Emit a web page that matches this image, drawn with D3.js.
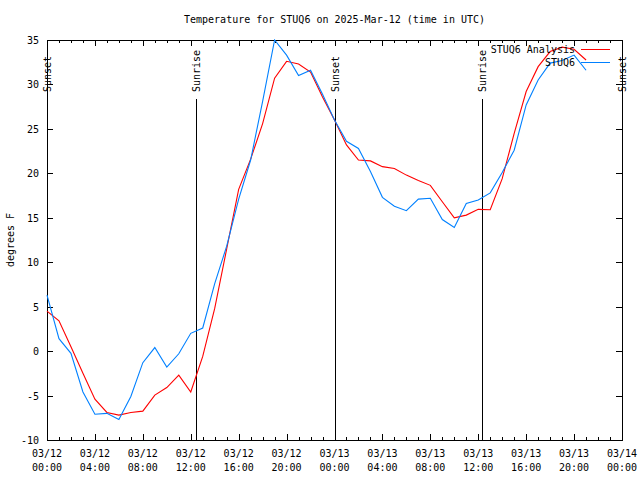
<!DOCTYPE html>
<html><head><meta charset="utf-8">
<script src="https://cdn.jsdelivr.net/npm/d3@7"></script>
<style>body{margin:0;background:#fff}svg{display:block}text{font-family:"DejaVu Sans Mono",monospace;font-size:10px;fill:#000}</style>
</head><body>
<script>
const title = "Temperature for STUQ6 on 2025-Mar-12 (time in UTC)";
const yLabel = "degrees F";
const startTime = "2025-03-12T00:00:00Z";
const endTime = "2025-03-14T00:00:00Z";
const hours = d3.range(0, 46);
const analysis = [4.5,3.4,0.5,-2.5,-5.4,-6.9,-7.2,-6.9,-6.75,-4.95,-4.1,-2.7,-4.6,-0.6,4.8,11.5,18.2,21.6,25.6,30.7,32.6,32.3,31.4,28.6,26.0,23.2,21.5,21.4,20.75,20.55,19.8,19.2,18.65,16.8,15.0,15.3,15.95,15.9,19.4,24.5,29.2,32.0,33.7,34.2,33.95,32.75];
const observed = [6.3,1.4,-0.25,-4.6,-7.1,-7.0,-7.7,-5.1,-1.3,0.4,-1.8,-0.3,2.0,2.6,7.6,11.8,17.1,21.5,28.1,35.0,33.3,31.0,31.6,28.9,26.0,23.6,22.8,20.2,17.3,16.3,15.8,17.1,17.2,14.8,13.9,16.6,17.0,17.8,20.1,22.6,27.7,30.5,32.4,32.7,33.3,31.6];
const sunEvents = [
  {label:"Sunset", hour:0},
  {label:"Sunrise", hour:12.4},
  {label:"Sunset", hour:24.0},
  {label:"Sunrise", hour:36.33},
  {label:"Sunset", hour:48}
];
const yTicks = [-10,-5,0,5,10,15,20,25,30,35];
const seriesNames = ["STUQ6 Analysis","STUQ6"];
const seriesColors = ["#ff0000","#0080ff"];

const W=640,H=480, L=47, R=622, T=40, B=440;
const t0 = new Date(startTime);
const hd = h => new Date(t0.getTime()+h*3600e3);
const x = d3.scaleUtc().domain([t0,new Date(endTime)]).range([L,R]);
const y = d3.scaleLinear().domain([-10,35]).range([B,T]);

const svg = d3.select("body").append("svg").attr("width",W).attr("height",H);

svg.append("text").attr("x",(L+R)/2).attr("y",23).attr("text-anchor","middle").text(title);
svg.append("text").attr("transform",`translate(14,${(T+B)/2}) rotate(-90)`).attr("text-anchor","middle").text(yLabel);

const g = svg.append("g").attr("shape-rendering","crispEdges");
g.append("rect").attr("x",L).attr("y",T).attr("width",R-L).attr("height",B-T).attr("fill","none").attr("stroke","#000");

// x ticks
const hourTicks = d3.utcHour.every(1).range(x.domain()[0], new Date(x.domain()[1].getTime()+1));
hourTicks.forEach(d=>{
  const major = d.getUTCHours()%4===0;
  const len = major?6:3;
  const px = Math.round(x(d))+0.5;
  g.append("line").attr("x1",px).attr("x2",px).attr("y1",B).attr("y2",B-len).attr("stroke","#000");
  g.append("line").attr("x1",px).attr("x2",px).attr("y1",T).attr("y2",T+len).attr("stroke","#000");
});
const majorTicks = d3.utcHour.every(4).range(x.domain()[0], new Date(x.domain()[1].getTime()+1));
const f1 = d3.utcFormat("%m/%d"), f2 = d3.utcFormat("%H:%M");
majorTicks.forEach(d=>{
  svg.append("text").attr("x",x(d)).attr("y",457).attr("text-anchor","middle").text(f1(d));
  svg.append("text").attr("x",x(d)).attr("y",471).attr("text-anchor","middle").text(f2(d));
});
// y ticks
yTicks.forEach(v=>{
  const py = Math.round(y(v))+0.5;
  g.append("line").attr("x1",L).attr("x2",L+6).attr("y1",py).attr("y2",py).attr("stroke","#000");
  g.append("line").attr("x1",R).attr("x2",R-6).attr("y1",py).attr("y2",py).attr("stroke","#000");
  svg.append("text").attr("x",39).attr("y",y(v)+4).attr("text-anchor","end").text(v);
});

// sun lines
sunEvents.forEach(s=>{
  const px = Math.round(x(hd(s.hour)))+0.5;
  g.append("line").attr("x1",px).attr("x2",px).attr("y1",99).attr("y2",B).attr("stroke","#000");
  svg.append("text").attr("transform",`translate(${x(hd(s.hour))+4},92) rotate(-90)`).attr("text-anchor","start").text(s.label);
});

// series
const line = d3.line().x((d,i)=>x(hd(hours[i]))).y(d=>y(d));
[analysis, observed].forEach((s,k)=>{
  svg.append("path").datum(s).attr("d",line).attr("fill","none").attr("stroke",seriesColors[k]).attr("stroke-width",1.1);
});

// legend
seriesNames.forEach((n,k)=>{
  const ly = 49+k*13;
  svg.append("text").attr("x",575).attr("y",ly+4).attr("text-anchor","end").text(n);
  svg.append("line").attr("x1",581).attr("x2",610).attr("y1",ly+0.5).attr("y2",ly+0.5).attr("stroke",seriesColors[k]).attr("shape-rendering","crispEdges");
});
</script>
</body></html>
